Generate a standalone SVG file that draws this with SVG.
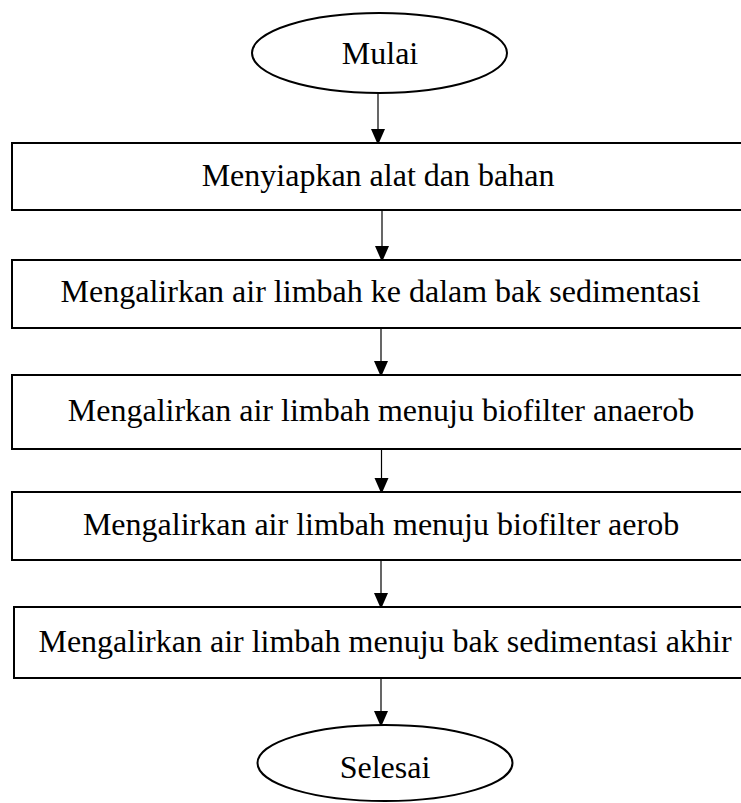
<svg xmlns="http://www.w3.org/2000/svg" width="741" height="803" viewBox="0 0 741 803">
<style>
.shape{fill:#fff;stroke:#000;stroke-width:2}
.lbl{font-family:"Liberation Serif","Times New Roman",serif;font-size:32px;fill:#000;text-anchor:middle}
.conn{stroke:#000;stroke-width:1.2;fill:none;marker-end:url(#ah)}
</style>
<defs>
<marker id="ah" markerUnits="userSpaceOnUse" markerWidth="16" markerHeight="18" refX="14" refY="7" orient="auto" viewBox="0 0 16 14">
<path d="M0,0 L16,7 L0,14 Z" fill="#000"/>
</marker>
</defs>
<rect width="741" height="803" fill="#fff"/>
<g id="connectors">
<line class="conn" x1="378" y1="93" x2="378" y2="143"/>
<line class="conn" x1="382" y1="210" x2="382" y2="260"/>
<line class="conn" x1="381" y1="328" x2="381" y2="375"/>
<line class="conn" x1="381.5" y1="449" x2="381.5" y2="492"/>
<line class="conn" x1="381" y1="560" x2="381" y2="607"/>
<line class="conn" x1="381" y1="678" x2="381" y2="725"/>
</g>
<g id="start">
<ellipse class="shape" cx="379.5" cy="53" rx="127.5" ry="40"/>
<text class="lbl" x="380" y="64">Mulai</text>
</g>
<g id="step1">
<rect class="shape" x="12" y="143" width="740" height="67"/>
<text class="lbl" x="378" y="186">Menyiapkan alat dan bahan</text>
</g>
<g id="step2">
<rect class="shape" x="12" y="260" width="740" height="68"/>
<text class="lbl" x="380.5" y="302">Mengalirkan air limbah ke dalam bak sedimentasi</text>
</g>
<g id="step3">
<rect class="shape" x="12" y="375" width="740" height="74"/>
<text class="lbl" x="381" y="421">Mengalirkan air limbah menuju biofilter anaerob</text>
</g>
<g id="step4">
<rect class="shape" x="12" y="492" width="740" height="68"/>
<text class="lbl" x="381" y="535">Mengalirkan air limbah menuju biofilter aerob</text>
</g>
<g id="step5">
<rect class="shape" x="14" y="607" width="740" height="71"/>
<text class="lbl" x="385" y="652">Mengalirkan air limbah menuju bak sedimentasi akhir</text>
</g>
<g id="end">
<ellipse class="shape" cx="385" cy="763" rx="127.5" ry="38"/>
<text class="lbl" x="385" y="778">Selesai</text>
</g>
</svg>
